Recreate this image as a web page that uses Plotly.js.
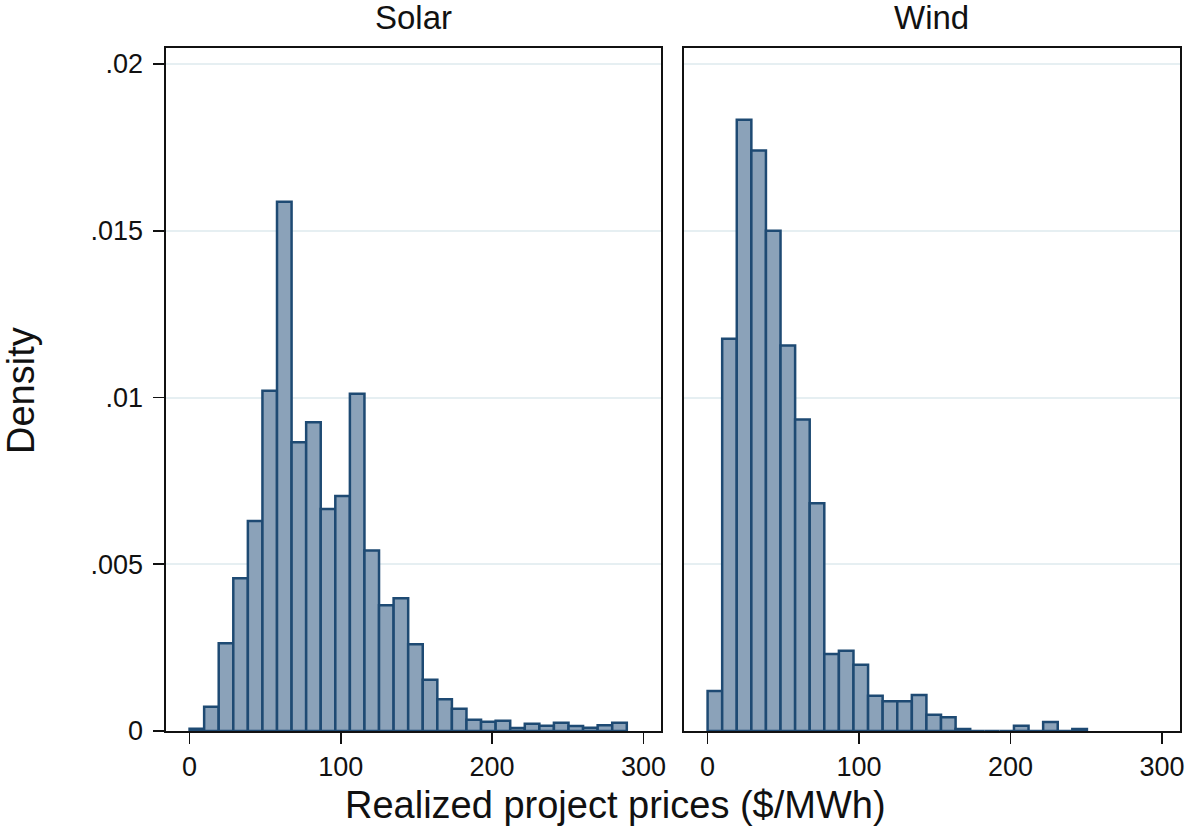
<!DOCTYPE html>
<html>
<head>
<meta charset="utf-8">
<script src="https://cdn.plot.ly/plotly-3.0.1.min.js"></script>
<style>
  html, body { margin: 0; padding: 0; background: #ffffff; }
  #chart { width: 1187px; height: 828px; }
</style>
</head>
<body>
<div id="chart"></div>
<script>
// ---- Data ----
const panelTitles = ["Solar", "Wind"];
const xAxisTitle = "Realized project prices ($/MWh)";
const yAxisTitle = "Density";

// Histogram bins shared by both panels
const binStart = 0.1;
const binWidth = 9.63;

// Density per bin, Solar (30 bins)
const solarDensity = [
  0.00007, 0.00073, 0.00263, 0.00458, 0.00630, 0.01020, 0.01587, 0.00866,
  0.00926, 0.00666, 0.00705, 0.01011, 0.00541, 0.00377, 0.00398, 0.00260,
  0.00154, 0.00095, 0.00067, 0.00034, 0.00028, 0.00031, 0.00009, 0.00022,
  0.00016, 0.00025, 0.00015, 0.00010, 0.00017, 0.00025
];

// Density per bin, Wind (26 bins)
const windDensity = [
  0.00120, 0.01176, 0.01833, 0.01741, 0.01500, 0.01156, 0.00934, 0.00683,
  0.00231, 0.00241, 0.00199, 0.00106, 0.00089, 0.00089, 0.00108, 0.00049,
  0.00041, 0.00006, 0, 0, 0, 0.00016, 0, 0.00027, 0, 0.00006
];

const yTickVals = [0, 0.005, 0.01, 0.015, 0.02];
const yTickText = ["0", ".005", ".01", ".015", ".02"];
const xTickVals = [0, 100, 200, 300];
const xTickText = ["0", "100", "200", "300"];

(function () {
// ---- Build traces ----
function centers(arr) { return arr.map((_, i) => binStart + binWidth * (i + 0.5)); }

const barFill = "#8ba2b9";
const barLine = "#1e4a73";

const traces = [
  { type: "bar", x: centers(solarDensity), y: solarDensity, width: binWidth,
    xaxis: "x", yaxis: "y",
    marker: { color: barFill, line: { color: barLine, width: 2.5 } },
    hoverinfo: "skip", showlegend: false },
  { type: "bar", x: centers(windDensity), y: windDensity, width: binWidth,
    xaxis: "x2", yaxis: "y2",
    marker: { color: barFill, line: { color: barLine, width: 2.5 } },
    hoverinfo: "skip", showlegend: false }
];

const FONT = "'Liberation Sans', Arial, sans-serif";
const TXT = "#111111";
const W = 1187, H = 828;
const left1 = 165.5, right1 = 661, left2 = 683.5, right2 = 1179.5;
const plotTop = 47.7, plotBottom = 731;
const yDom = [(H - plotBottom) / H, (H - plotTop) / H];
const xRange = [-15.8, 311.6];
const yRange = [0, 0.02049];

const xCommon = {
  range: xRange, tickvals: xTickVals, ticktext: xTickText,
  ticks: "outside", ticklen: 11, tickwidth: 1.6, tickcolor: "#111",
  showline: true, linecolor: "#111", linewidth: 2, mirror: true,
  showgrid: false, zeroline: false,
  tickfont: { family: FONT, size: 27, color: TXT }, fixedrange: true
};
const yCommon = {
  range: yRange, showline: true, linecolor: "#111", linewidth: 2, mirror: true,
  showgrid: true, gridcolor: "#e6eff2", gridwidth: 2,
  zeroline: false, fixedrange: true,
  tickvals: yTickVals
};

const layout = {
  width: W, height: H,
  margin: { l: 0, r: 0, t: 0, b: 0 },
  paper_bgcolor: "#ffffff", plot_bgcolor: "#ffffff",
  bargap: 0, showlegend: false,
  xaxis: Object.assign({}, xCommon, { domain: [left1 / W, right1 / W], anchor: "y" }),
  xaxis2: Object.assign({}, xCommon, { domain: [left2 / W, right2 / W], anchor: "y2" }),
  yaxis: Object.assign({}, yCommon, {
    domain: yDom, anchor: "x", ticktext: yTickText,
    ticks: "outside", ticklen: 11, tickwidth: 1.6, tickcolor: "#111",
    tickfont: { family: FONT, size: 27, color: TXT }, ticklabelstandoff: 4
  }),
  yaxis2: Object.assign({}, yCommon, {
    domain: yDom, anchor: "x2", showticklabels: false, ticks: ""
  }),
  annotations: [
    { text: panelTitles[0], xref: "paper", yref: "paper",
      x: (left1 + right1) / 2 / W, y: (H - 18) / H, xanchor: "center", yanchor: "middle",
      showarrow: false, font: { family: FONT, size: 33, color: TXT } },
    { text: panelTitles[1], xref: "paper", yref: "paper",
      x: (left2 + right2) / 2 / W, y: (H - 18) / H, xanchor: "center", yanchor: "middle",
      showarrow: false, font: { family: FONT, size: 33, color: TXT } },
    { text: xAxisTitle, xref: "paper", yref: "paper",
      x: 616 / W, y: (H - 805) / H, xanchor: "center", yanchor: "middle",
      showarrow: false, font: { family: FONT, size: 38, color: TXT } },
    { text: yAxisTitle, xref: "paper", yref: "paper", textangle: -90,
      x: 21 / W, y: (H - 391) / H, xanchor: "center", yanchor: "middle",
      showarrow: false, font: { family: FONT, size: 38, color: TXT } }
  ]
};

Plotly.newPlot("chart", traces, layout, { staticPlot: true, displayModeBar: false });
})();
</script>
</body>
</html>
